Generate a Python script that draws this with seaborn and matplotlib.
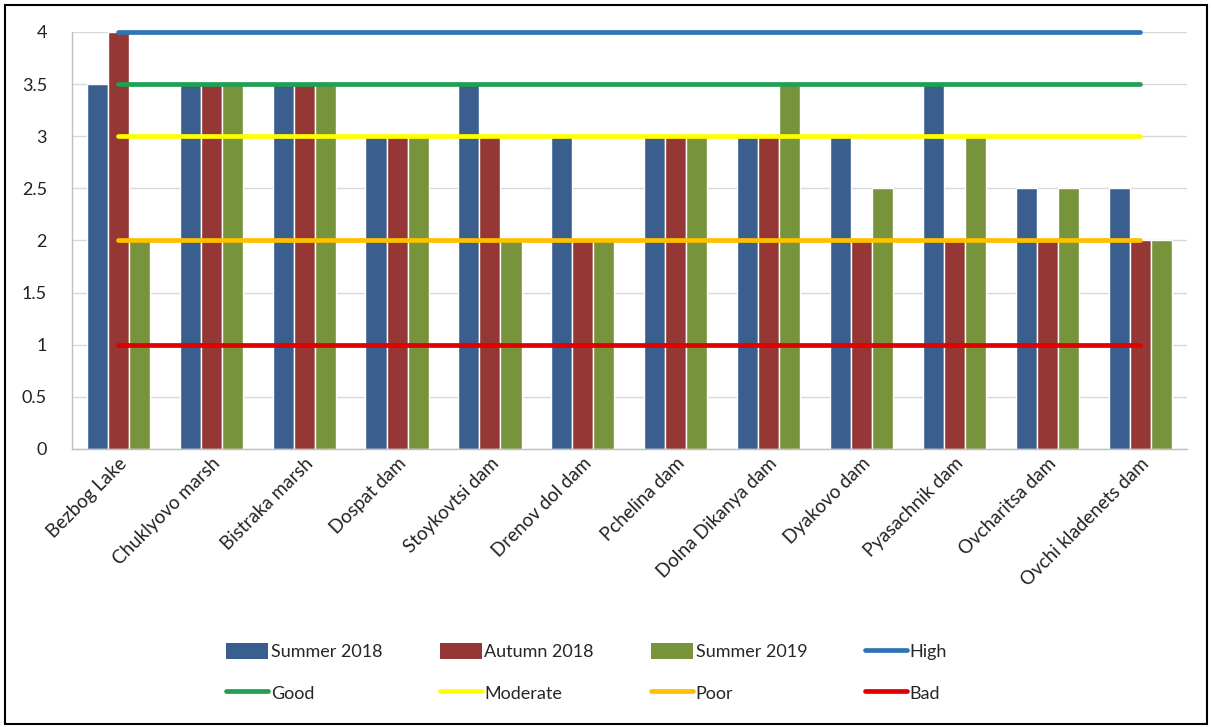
import matplotlib
matplotlib.use("Agg")
import matplotlib.pyplot as plt
from matplotlib.patches import Rectangle, Patch
from matplotlib.lines import Line2D
import seaborn as sns
import pandas as pd

categories = ["Bezbog Lake", "Chuklyovo marsh", "Bistraka marsh", "Dospat dam",
              "Stoykovtsi dam", "Drenov dol dam", "Pchelina dam", "Dolna Dikanya dam",
              "Dyakovo dam", "Pyasachnik dam", "Ovcharitsa dam", "Ovchi kladenets dam"]
summer_2018 = [3.5, 3.5, 3.5, 3, 3.5, 3, 3, 3, 3, 3.5, 2.5, 2.5]
autumn_2018 = [4, 3.5, 3.5, 3, 3, 2, 3, 3, 2, 2, 2, 2]
summer_2019 = [2, 3.5, 3.5, 3, 2, 2, 3, 3.5, 2.5, 3, 2.5, 2]
seasons = ["Summer 2018", "Autumn 2018", "Summer 2019"]

class_names = ["High", "Good", "Moderate", "Poor", "Bad"]
class_values = [4, 3.5, 3, 2, 1]

bar_colors = ["#3A5F8E", "#953735", "#77933C"]
line_colors = ["#2E75B6", "#1FA055", "#FFFF00", "#FFC000", "#E00000"]

df = pd.DataFrame({
    "site": categories * 3,
    "score": summer_2018 + autumn_2018 + summer_2019,
    "season": [s for s in seasons for _ in categories],
})

sns.set_theme(style="white")
plt.rcParams["font.family"] = ["Lato", "DejaVu Sans"]

fig = plt.figure(figsize=(12.12, 7.27), dpi=100)
ax = fig.add_axes([0.0594, 0.3824, 0.9196, 0.5736])

sns.barplot(data=df, x="site", y="score", hue="season", palette=bar_colors,
            width=0.68, gap=0, saturation=1, ax=ax, legend=False, zorder=2)

for name, val, col in zip(class_names, class_values, line_colors):
    ax.plot([categories[0], categories[-1]], [val, val], color=col,
            linewidth=3.4, solid_capstyle="round", zorder=3, clip_on=False)

ax.set_ylim(0, 4)
ax.set_xlim(-0.5, len(categories) - 0.5)
ax.set_yticks([0, 0.5, 1, 1.5, 2, 2.5, 3, 3.5, 4])
ax.set_yticklabels(["0", "0.5", "1", "1.5", "2", "2.5", "3", "3.5", "4"])
ax.yaxis.grid(True, color="#D9D9D9", linewidth=1, zorder=0)
ax.set_axisbelow(True)
for side in ["top", "right"]:
    ax.spines[side].set_visible(False)
for side in ["left", "bottom"]:
    ax.spines[side].set_color("#BFBFBF")
    ax.spines[side].set_linewidth(1)
ax.set_xlabel("")
ax.set_ylabel("")
ax.tick_params(axis="y", labelsize=13, length=0, pad=18, colors="#222222")
ax.tick_params(axis="x", labelsize=13.5, length=0, pad=4, colors="#222222")
plt.setp(ax.get_xticklabels(), rotation=45, ha="right", rotation_mode="anchor")

bar_handles = [Patch(facecolor=c, edgecolor="none") for c in bar_colors]
line_handles = [Line2D([0], [0], color=c, linewidth=3.4, solid_capstyle="round")
                for c in line_colors]
labels_all = seasons + class_names
handles_all = bar_handles + line_handles
# arrange row-major for a 2x4 grid (legend fills column by column)
order = [0, 4, 1, 5, 2, 6, 3, 7]
leg = fig.legend([handles_all[i] for i in order], [labels_all[i] for i in order],
                 loc="center", bbox_to_anchor=(0.484, 0.0755), ncol=4, frameon=False,
                 fontsize=13, handlelength=2.3, handletextpad=0.15, columnspacing=3.2,
                 labelspacing=1.35, handleheight=1.0)

fig.patches.append(Rectangle((0.004, 0.004), 0.992, 0.989, transform=fig.transFigure,
                             fill=False, edgecolor="black", linewidth=1.5))

fig.savefig("out.png", dpi=100, facecolor="white")
